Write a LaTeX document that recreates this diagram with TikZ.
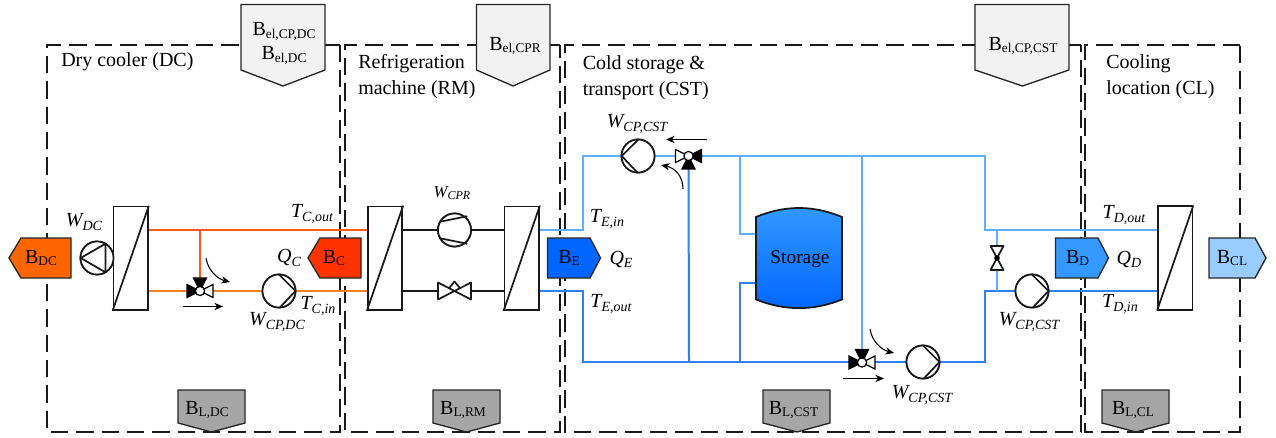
\documentclass[tikz,border=0pt]{standalone}
\usepackage{fontspec}
\setmainfont{Liberation Serif}
\usetikzlibrary{arrows.meta}
\newcommand{\Bsub}[2]{{\fontsize{15}{17}\selectfont #1\raisebox{-0.3ex}{\fontsize{10}{12}\selectfont #2}}}
\newcommand{\Vsub}[2]{{\fontsize{15}{17}\selectfont\itshape #1\raisebox{-0.35ex}{\fontsize{10.5}{12}\selectfont #2}}}
\newcommand{\Vsmall}[2]{{\fontsize{12.5}{14}\selectfont\itshape #1\raisebox{-0.35ex}{\fontsize{9}{11}\selectfont #2}}}
\definecolor{orange1}{HTML}{FF5A1F}
\definecolor{orange2}{HTML}{F58220}
\definecolor{blue1}{HTML}{5FAEFF}
\definecolor{blue2}{HTML}{2F80F0}
\definecolor{fDC}{HTML}{FF6600}
\definecolor{fC}{HTML}{FF3300}
\definecolor{fE}{HTML}{0066FF}
\definecolor{fD}{HTML}{3399FF}
\definecolor{fCL}{HTML}{99CCFF}
\definecolor{fEl}{HTML}{F2F2F2}
\definecolor{fL}{HTML}{A6A6A6}
\tikzset{
  x=0.75pt,y=-0.75pt,
  zone/.style={line width=1.5pt,dash pattern=on 13pt off 6pt,black!90},
  zonelabel/.style={anchor=north west,inner sep=0pt,align=left,font=\fontsize{15}{18}\selectfont},
  sym/.style={line width=1.3pt,draw=black!90},
  hx/.style={sym,fill=white,rectangle,inner sep=0pt,minimum width=25.9pt,minimum height=77.6pt},
  pumpc/.style={sym,fill=white,circle,inner sep=0pt,minimum size=24.8pt},
  balance/.style={draw=black!85,line width=1pt},
  txt/.style={inner sep=0pt},
  pipeR/.style={line width=1.3pt,draw=orange1},
  pipeO/.style={line width=1.5pt,draw=orange2},
  pipeL/.style={line width=1.3pt,draw=blue1},
  pipeD/.style={line width=1.5pt,draw=blue2},
  pipeK/.style={line width=1.3pt,draw=black!90},
  flow/.style={line width=0.8pt,black,-{Stealth[length=6.5pt,width=5.5pt]}},
  vb/.style={line width=0.9pt,fill=black,draw=black},
  vw/.style={line width=0.9pt,fill=white,draw=black},
}
\begin{document}
\begin{tikzpicture}
\useasboundingbox (0,0) rectangle (1276,438);
% zones
\draw[zone] (340,45.5) -- (46.5,45.5) -- (46.5,431.5) -- (340,431.5) -- cycle;
\draw[zone] (560,45.5) -- (344.5,45.5) -- (344.5,431.5) -- (560,431.5) -- cycle;
\draw[zone] (1081,45.5) -- (564.5,45.5) -- (564.5,431.5) -- (1081,431.5) -- cycle;
\draw[zone] (1240,45.5) -- (1085,45.5) -- (1085,431.5) -- (1240,431.5) -- cycle;
\node[zonelabel] (lDC) at (61,52.5) {Dry cooler (DC)};
\node[zonelabel] (lRM) at (358,54.5) {Refrigeration\\[1.5pt]machine (RM)};
\node[zonelabel] (lCST) at (582.5,55) {Cold storage \&\\[1.5pt]transport (CST)};
\node[zonelabel] (lCL) at (1106,54.5) {Cooling\\[1.5pt]location (CL)};
% equipment nodes
\node[hx] (hxA) at (130.7,258.3) {};
\node[hx] (hxB) at (385,258.3) {};
\node[hx] (hxC) at (521.7,258.3) {};
\node[hx] (hxD) at (1175.2,258) {};
\node[pumpc] (pA) at (97,258) {};
\node[pumpc] (pB) at (279,291) {};
\node[pumpc] (pC) at (454.5,230) {};
\node[pumpc] (pD) at (638,156) {};
\node[pumpc] (pE) at (923,362) {};
\node[pumpc] (pF) at (1032,291) {};
\coordinate (vA) at (200,291);
\coordinate (vB) at (688.5,156);
\coordinate (vC) at (862,362.5);
\coordinate (vE) at (454.5,291);
\coordinate (vF) at (997,258);
% pipe corners
\coordinate (a1) at (148,230.2); \coordinate (a2) at (368,230.2); \coordinate (a3) at (200,230.2);
\coordinate (b1) at (148,291); \coordinate (b2) at (368,291);
\coordinate (c1) at (402,230.2); \coordinate (c2) at (504.5,230.2);
\coordinate (d1) at (402,291); \coordinate (d2) at (504.5,291);
\coordinate (e1) at (539,230.2); \coordinate (e2) at (583,230.2); \coordinate (e3) at (583,156);
\coordinate (f1) at (539,291); \coordinate (f2) at (583,291); \coordinate (f3) at (583,362);
\coordinate (g1) at (985,156); \coordinate (g2) at (985,230.2); \coordinate (g3) at (1158,230.2);
\coordinate (h1) at (985,362); \coordinate (h2) at (985,291); \coordinate (h3) at (1158,291);
\coordinate (j1) at (689,362); \coordinate (k1) at (740,156); \coordinate (k2) at (740,234); \coordinate (k3) at (756,234);
\coordinate (m1) at (740,362); \coordinate (m2) at (740,282.5); \coordinate (m3) at (756,282.5);
\coordinate (n1) at (862,156);
\coordinate (q1) at (997,230.2); \coordinate (q2) at (997,291);
% pipes
\draw[pipeR] (a1) -- (a2);
\draw[pipeR] (a3) -- (vA);
\draw[pipeO] (b1) -- (b2);
\draw[pipeK] (c1) -- (c2);
\draw[pipeK] (d1) -- (d2);
\draw[pipeL,line join=miter] (e1) -- (e2) -- (e3) -- (vB);
\draw[pipeD] (f1) -- (f2) -- (f3) -- (h1) -- (h2) -- (h3);
\draw[pipeD] (vB) -- (j1);
\draw[pipeL] (vB) -- (g1) -- (g2) -- (g3);
\draw[pipeL] (k1) -- (k2) -- (k3);
\draw[pipeD] (m1) -- (m2) -- (m3);
\draw[pipeL] (n1) -- (vC);
\draw[pipeL] (q1) -- (q2);
% redraw equipment over pipes
\foreach \n in {hxA,hxB,hxC,hxD}{
  \node[hx] at (\n) {};
  \draw[sym] (\n.south west) -- (\n.north east);
}
\foreach \n in {pA,pB,pC,pD,pE,pF}{\node[pumpc] at (\n) {};}
% pump marks
\draw[sym,line cap=round,line join=round] (80.7,258) -- (105.5,243.7) -- (105.5,272.3) -- cycle;
\draw[sym,line cap=round,line join=round] (279,274.5) -- (295.5,291) -- (280,307.3);
\draw[sym,line cap=round,line join=round] (638.3,139.5) -- (621.7,156) -- (637.3,172.5);
\draw[sym,line cap=round,line join=round] (923,345.5) -- (939.5,362) -- (924,378.3);
\draw[sym,line cap=round,line join=round] (1032,274.5) -- (1048.5,291) -- (1033,307.3);
\draw[sym,line cap=round] (440.2,221.7) -- (466.8,216.3);
\draw[sym,line cap=round] (440.2,238.3) -- (466.8,243.7);
% valves
\begin{scope}[shift={(vA)}]
  \draw[vb] (0,0)--(-13,-6.5)--(-13,6.5)--cycle;
  \draw[vw] (0,0)--(13,-6.5)--(13,6.5)--cycle;
  \draw[vb] (0,0)--(-6.5,-13)--(6.5,-13)--cycle;
  \draw[vw] (0,0) circle (4.6);
\end{scope}
\begin{scope}[shift={(vC)}]
  \draw[vb] (0,0)--(-13,-6.5)--(-13,6.5)--cycle;
  \draw[vw] (0,0)--(13,-6.5)--(13,6.5)--cycle;
  \draw[vb] (0,0)--(-6.5,-13)--(6.5,-13)--cycle;
  \draw[vw] (0,0) circle (4.6);
\end{scope}
\begin{scope}[shift={(vB)}]
  \draw[vw] (0,0)--(-13,-6.5)--(-13,6.5)--cycle;
  \draw[vb] (0,0)--(13,-6.5)--(13,6.5)--cycle;
  \draw[vb] (0,0)--(-6.5,13)--(6.5,13)--cycle;
  \draw[vw] (0,0) circle (4.6);
\end{scope}
\draw[sym,fill=white,line join=round] (vE) ++(-16.5,-8.5) -- ++(33,17) -- ++(0,-17) -- ++(-33,17) -- cycle;
\draw[sym,line join=round] (449,288.2) -- (454.5,281.5) -- (460,288.2);
\draw[sym,fill=white,line join=round] (vF) ++(-6.5,-12) -- ++(13,24) -- ++(-13,0) -- ++(13,-24) -- cycle;
\fill (vF) circle (2.8);
% flow arrows
\coordinate (fa1) at (206,258); \coordinate (fa2) at (230,282);
\coordinate (fb1) at (183,306.5); \coordinate (fb2) at (223,306.5);
\coordinate (fc1) at (706.5,139.5); \coordinate (fc2) at (666,139.5);
\coordinate (fd1) at (683,189); \coordinate (fd2) at (661,165);
\coordinate (fe1) at (870,329); \coordinate (fe2) at (894,353);
\coordinate (ff1) at (843,378.5); \coordinate (ff2) at (884,378.5);
\draw[flow] (fa1) .. controls (208,271) and (218,279) .. (fa2);
\draw[flow] (fb1) -- (fb2);
\draw[flow] (fc1) -- (fc2);
\draw[flow] (fd1) .. controls (683,176) and (675,168) .. (fd2);
\draw[flow] (fe1) .. controls (872,342) and (882,350) .. (fe2);
\draw[flow] (ff1) -- (ff2);
% balance tags: side arrows
\draw[balance,fill=fDC] (71,238) -- (21,238) -- (9,258) -- (21,278) -- (71,278) -- cycle;
\node[txt] (tDC) at (41,258) {\Bsub{B}{DC}};
\draw[balance,fill=fC] (361,238) -- (320,238) -- (308,258) -- (320,278) -- (361,278) -- cycle;
\node[txt] (tC) at (334,258) {\Bsub{B}{C}};
\draw[balance,fill=fE] (547.5,238) -- (590,238) -- (600.5,258) -- (590,278) -- (547.5,278) -- cycle;
\node[txt] (tE) at (569,258) {\Bsub{B}{E}};
\draw[balance,fill=fD] (1055.5,238) -- (1098,238) -- (1108.5,258) -- (1098,278) -- (1055.5,278) -- cycle;
\node[txt] (tD) at (1077.5,258) {\Bsub{B}{D}};
\draw[balance,fill=fCL] (1209,238) -- (1255,238) -- (1266,258) -- (1255,278) -- (1209,278) -- cycle;
\node[txt] (tCL) at (1232,258) {\Bsub{B}{CL}};
% top tags
\draw[balance,fill=fEl] (241,4.5) -- (325,4.5) -- (325,70) -- (283,86) -- (241,70) -- cycle;
\node[txt,align=center] (tElA) at (284,43.5) {\Bsub{B}{el,CP,DC}\\[3.5pt]\Bsub{B}{el,DC}};
\draw[balance,fill=fEl] (476.5,4.5) -- (550,4.5) -- (550,70) -- (513,86) -- (476.5,70) -- cycle;
\node[txt] (tElB) at (515,46) {\Bsub{B}{el,CPR}};
\draw[balance,fill=fEl] (975,4.5) -- (1069,4.5) -- (1069,70) -- (1022.5,86) -- (975,70) -- cycle;
\node[txt] (tElC) at (1023,46) {\Bsub{B}{el,CP,CST}};
% bottom tags
\draw[balance,fill=fL] (178,390) -- (245,390) -- (245,423) -- (211.5,432) -- (178,423) -- cycle;
\node[txt] (tLA) at (207,410) {\Bsub{B}{L,DC}};
\draw[balance,fill=fL] (433,390) -- (500,390) -- (500,423) -- (466.5,432) -- (433,423) -- cycle;
\node[txt] (tLB) at (463,410) {\Bsub{B}{L,RM}};
\draw[balance,fill=fL] (763,390) -- (830,390) -- (830,423) -- (797,432) -- (763,423) -- cycle;
\node[txt] (tLC) at (793.5,410) {\Bsub{B}{L,CST}};
\draw[balance,fill=fL] (1102,390) -- (1169,390) -- (1169,423) -- (1136,432) -- (1102,423) -- cycle;
\node[txt] (tLD) at (1133,410) {\Bsub{B}{L,CL}};
% storage
\draw[sym,top color=fD,bottom color=fE] (756,217) .. controls (785,205) and (813,205) .. (842,217) -- (842,299.5) .. controls (813,311) and (785,311) .. (756,299.5) -- cycle;
\node[txt,font=\fontsize{14.5}{17}\selectfont] (st) at (800,259) {Storage};
% variable labels
\node[txt] (v1) at (84,222) {\Vsub{W}{DC}};
\node[txt] (v2) at (312,214) {\Vsub{T}{C,out}};
\node[txt] (v3) at (289,258) {\Vsub{Q}{C}};
\node[txt] (v4) at (318,306) {\Vsub{T}{C,in}};
\node[txt] (v5) at (277,322) {\Vsub{W}{CP,DC}};
\node[txt] (v6) at (452,193) {\Vsmall{W}{CPR}};
\node[txt] (v7) at (607,219) {\Vsub{T}{E,in}};
\node[txt] (v8) at (621,259) {\Vsub{Q}{E}};
\node[txt] (v9) at (611,304) {\Vsub{T}{E,out}};
\node[txt] (v10) at (637,124) {\Vsub{W}{CP,CST}};
\node[txt] (v11) at (922,395) {\Vsub{W}{CP,CST}};
\node[txt] (v12) at (1029,322) {\Vsub{W}{CP,CST}};
\node[txt] (v13) at (1124,215) {\Vsub{T}{D,out}};
\node[txt] (v14) at (1129,259) {\Vsub{Q}{D}};
\node[txt] (v15) at (1120,304) {\Vsub{T}{D,in}};
\end{tikzpicture}
\end{document}
